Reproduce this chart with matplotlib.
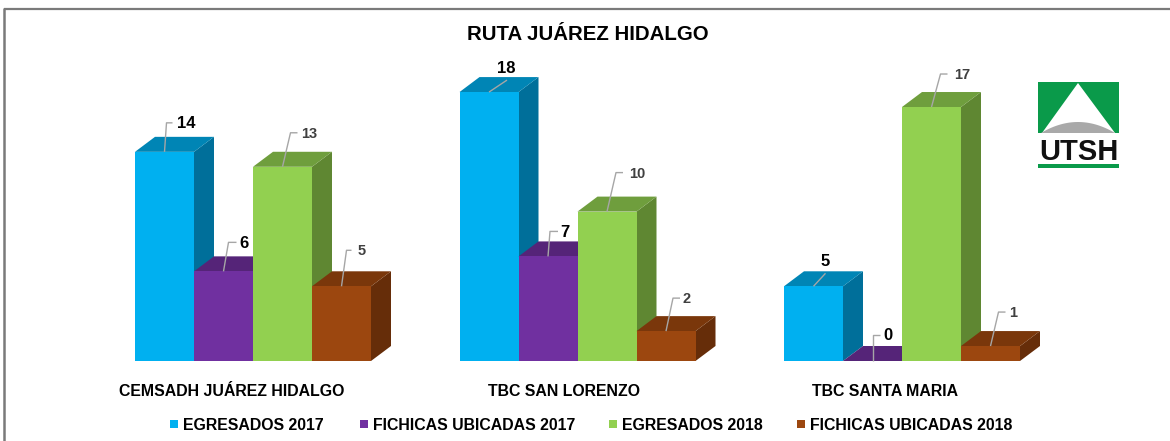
import numpy as np
import matplotlib
matplotlib.use("Agg")
import matplotlib.pyplot as plt
from matplotlib.patches import Polygon, Rectangle

plt.rcParams['font.family'] = ['Liberation Sans', 'DejaVu Sans']

# ---- data ----
title = "RUTA JUÁREZ HIDALGO"
categories = ["CEMSADH JUÁREZ HIDALGO", "TBC SAN LORENZO", "TBC SANTA MARIA"]
series_names = ["EGRESADOS 2017", "FICHICAS UBICADAS 2017", "EGRESADOS 2018", "FICHICAS UBICADAS 2018"]
egresados_2017 = [14, 18, 5]
fichicas_2017 = [6, 7, 0]
egresados_2018 = [13, 10, 17]
fichicas_2018 = [5, 2, 1]
series_values = [egresados_2017, fichicas_2017, egresados_2018, fichicas_2018]

# ---- style ----
front = ["#00B0F0", "#7030A0", "#92D050", "#9C470F"]
top = ["#0085B5", "#552478", "#6F9E3D", "#7A370B"]
side = ["#006F9A", "#46205F", "#5F8732", "#662D09"]
label_size = [12, 12, 10.5, 10.5]
label_color = ["#000000", "#000000", "#404040", "#404040"]

W, H = 1170, 441
fig = plt.figure(figsize=(W / 100, H / 100), dpi=100, facecolor="white")

# scales: one category unit = 324.5 px, one value unit = 14.94 px
PX_X, PX_Y = 324.5, 14.94
X0, Y0 = 253.0, 361.0
ax = fig.add_axes([0, 0, 1, 1])
ax.set_xlim(-X0 / PX_X, (W - X0) / PX_X)
ax.set_ylim(-(H - Y0) / PX_Y, Y0 / PX_Y)
ax.axis("off")
bw = 59.0 / PX_X
dx, dy = 20.0 / PX_X, 15.0 / PX_Y

# leader offsets (px, from bar top centre): elbow dx, elbow dy, end dx, text dx, text dy
leaders = [
    [(2, -29, 8, 22, -28), (5, -29, 13, 21, -28), (8, -34, 15, 27, -33), (5, -36, 10, 20, -35)],
    [(18, -12, 18, 17, -24), (2, -25, 10, 17, -24), (9, -39, 16, 30, -38), (7, -33, 14, 21, -32)],
    [(12, -13, 12, 12, -25), (0, -26, 7, 15, -25), (9, -33, 16, 31, -32), (8, -34, 15, 23, -33)],
]

for g in range(len(categories)):
    for s in range(4):
        v = series_values[s][g]
        x0 = g + (s - 2) * bw
        x1 = x0 + bw
        ax.add_patch(Polygon([(x1, 0), (x1 + dx, dy), (x1 + dx, v + dy), (x1, v)],
                             closed=True, fc=side[s], ec="none", zorder=2 + s))
        ax.add_patch(Polygon([(x0, v), (x0 + dx, v + dy), (x1 + dx, v + dy), (x1, v)],
                             closed=True, fc=top[s], ec="none", zorder=2 + s))
        if v > 0:
            ax.add_patch(Rectangle((x0, 0), bw, v, fc=front[s], ec="none", zorder=2 + s))
        cx = (x0 + x1) / 2
        ex, ey, endx, tx, ty = leaders[g][s]
        ax.plot([cx, cx + ex / PX_X, cx + endx / PX_X],
                [v, v - ey / PX_Y, v - ey / PX_Y],
                color="#a6a6a6", lw=1.0, zorder=10, solid_capstyle="butt")
        ax.text(cx + tx / PX_X, v - ty / PX_Y, str(v), ha="center", va="center",
                fontsize=label_size[s], fontweight="bold", color=label_color[s], zorder=11)

# category labels
cat_x = [232, 564, 885.5]
for name, px in zip(categories, cat_x):
    ax.text((px - X0) / PX_X, (Y0 - 392) / PX_Y, name, ha="center", va="center",
            fontsize=11.4, fontweight="bold", color="black")

# title
ax.text((588 - X0) / PX_X, (Y0 - 34) / PX_Y, title, ha="center", va="center",
        fontsize=14.7, fontweight="bold", color="black")

# legend
fax = fig.add_axes([0, 0, 1, 1], facecolor="none")
fax.set_xlim(0, W)
fax.set_ylim(H, 0)
fax.axis("off")
legend_marker_x = [170, 360, 609, 797]
for name, mx, c in zip(series_names, legend_marker_x, front):
    fax.add_patch(Rectangle((mx, 420), 8, 8, fc=c, ec="none"))
    fax.text(mx + 13, 425, name, ha="left", va="center", fontsize=11.4,
             fontweight="bold", color="black")

# frame: top and left only
fax.plot([3.5, W], [8.5, 8.5], color="#7a7a7a", lw=1.6, solid_capstyle="butt")
fax.plot([3.5, 3.5], [8, H], color="#7a7a7a", lw=1.8, solid_capstyle="butt")

# logo
green = "#0A9A4A"
fax.add_patch(Rectangle((1038, 82), 81, 51, fc=green, ec="none"))
fax.add_patch(Polygon([(1078, 83), (1042, 133), (1115, 133)], closed=True, fc="white", ec="none"))
t = np.linspace(-1, 1, 40)
arc = np.column_stack([1078 + 37 * t, 133 - 11 * (1 - t ** 2)])
fax.add_patch(Polygon(arc, closed=True, fc="#A9A9A9", ec="none"))
fax.text(1079, 152, "UTSH", ha="center", va="center", fontsize=21,
         fontweight="bold", color="#111111")
fax.add_patch(Rectangle((1038, 164), 81, 3.5, fc=green, ec="none"))

fig.savefig("out.png", dpi=100, facecolor="white")
